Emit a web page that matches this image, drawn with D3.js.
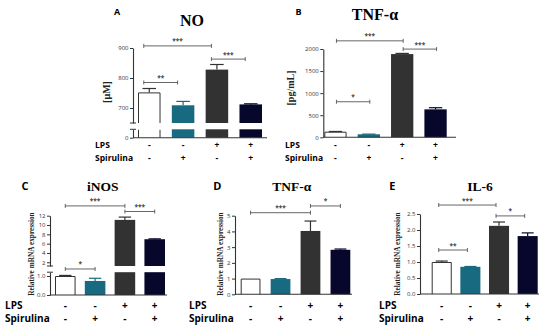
<!DOCTYPE html>
<html>
<head>
<meta charset="utf-8">
<script src="https://cdn.jsdelivr.net/npm/d3@7"></script>
<style>
  body { margin: 0; background: #fff; }
  svg { display: block; }
</style>
</head>
<body>
<svg id="fig" width="550" height="333"></svg>
<script>
// groups (same for every panel)
const groups = ['ctrl', 'spir', 'lps', 'lpsSpir'];
const lpsSigns = ['-', '-', '+', '+'];
const spirSigns = ['-', '+', '-', '+'];
const barColors = ['#ffffff', '#176a7f', '#323232', '#07072b'];

// A - NO, µM
const noMean = [752, 709, 828, 712];
const noErr = [13, 13, 17, 2];
const noTicksUpper = [700, 800, 900];
const noTicksLower = [0];
// [from, to, label, y value]
const noSig = [[0, 2, '***', 907], [0, 1, '**', 785], [2, 3, '***', 863]];

// B - TNF-a protein, pg/mL
const tnfProtMean = [127, 68, 1885, 633];
const tnfProtErr = [5, 4, 15, 37];
const tnfProtTicks = [0, 500, 1000, 1500, 2000];
const tnfProtSig = [[0, 2, '***', 2185], [2, 3, '***', 1998], [0, 1, '*', 805]];

// C - iNOS mRNA
const inosMean = [1.0, 0.74, 11.1, 6.95];
const inosErr = [0.03, 0.14, 0.6, 0.08];
const inosTicksUpper = [2, 4, 6, 8, 10, 12];
const inosTicksLower = [0, 1];
const inosSig = [[0, 2, '***', 14.1], [2, 3, '***', 12.9], [0, 1, '*', 1.37, 'L']];

// D - TNF-a mRNA
const tnfMrnaMean = [1.0, 0.97, 4.03, 2.83];
const tnfMrnaErr = [0, 0.03, 0.63, 0.05];
const tnfMrnaTicks = [0, 1, 2, 3, 4, 5];
const tnfMrnaSig = [[0, 2, '***', 5.19], [2, 3, '*', 5.62]];

// E - IL-6 mRNA
const il6Mean = [1.0, 0.85, 2.13, 1.81];
const il6Err = [0.03, 0.01, 0.12, 0.1];
const il6Ticks = [0, 0.5, 1, 1.5, 2, 2.5];
const il6Sig = [[0, 2, '***', 2.78], [2, 3, '*', 2.44], [0, 1, '**', 1.375]];

const svg = d3.select('#fig');
const serif = "'Liberation Serif', 'DejaVu Serif', serif";
const sans = "'Open Sans', 'Liberation Sans', sans-serif";

function drawPanel(cfg) {
  const g = svg.append('g');

  const x = d3.scaleBand().domain(groups).range(cfg.bars).paddingInner(cfg.pad);
  const bw = x.bandwidth();
  const yU = d3.scaleLinear().domain(cfg.upper.domain).range(cfg.upper.range);
  const yL = cfg.lower
    ? d3.scaleLinear().domain(cfg.lower.domain).range(cfg.lower.range)
    : null;
  const base = yL ? yL(0) : yU(0);

  // which scale a value lands on
  function yOf(v) {
    if (!yL) return yU(v);
    return v > cfg.upper.domain[0] ? yU(v) : yL(v);
  }

  // bars, split into segments on broken axes
  groups.forEach(function (k, i) {
    const v = cfg.mean[i];
    let segs = [];
    if (!yL) {
      segs.push([yU(v), base, true]);
    } else {
      if (v > cfg.upper.domain[0]) {
        segs.push([yU(v), yU(cfg.upper.domain[0]), true]);
        segs.push([yL(cfg.lower.domain[1]), base, false]);
      } else {
        segs.push([yL(v), base, true]);
      }
    }
    segs.forEach(function (s) {
      g.append('rect')
        .attr('x', x(k))
        .attr('y', s[0])
        .attr('width', bw)
        .attr('height', s[1] - s[0])
        .attr('fill', barColors[i]);
      if (i === 0) {
        let p = 'M' + (x(k) + 0.5) + ',' + s[1] + 'V' + (s[0] + 0.5);
        p += s[2] ? 'H' + (x(k) + bw - 0.5) : 'M' + (x(k) + bw - 0.5) + ',' + (s[0] + 0.5);
        p += 'V' + s[1];
        g.append('path').attr('d', p).attr('fill', 'none')
          .attr('stroke', '#333').attr('stroke-width', 1);
      }
    });

    // error bar (upwards only)
    const e = cfg.err[i];
    if (e > 0) {
      const y0 = yOf(v);
      const y1 = (yL && v <= cfg.upper.domain[0]) ? yL(v + e) : yOf(v + e);
      const cx = x(k) + bw / 2;
      const col = i === 0 ? '#333' : barColors[i];
      g.append('line').attr('x1', cx).attr('x2', cx).attr('y1', y0).attr('y2', y1)
        .attr('stroke', col).attr('stroke-width', 1.2);
      g.append('line').attr('x1', cx - bw * 0.3).attr('x2', cx + bw * 0.3)
        .attr('y1', y1).attr('y2', y1)
        .attr('stroke', col).attr('stroke-width', 1.2);
    }
  });

  // y axes
  function styleAxis(sel) {
    sel.select('.domain').attr('stroke', '#333').attr('stroke-width', 1.1);
    sel.selectAll('.tick line').attr('stroke', '#333');
    sel.selectAll('.tick text')
      .attr('font-family', sans)
      .attr('font-size', 6)
      .attr('fill', '#333');
  }
  const axU = g.append('g')
    .attr('transform', 'translate(' + cfg.axisX + ',0)')
    .call(d3.axisLeft(yU).tickValues(cfg.ticksUpper).tickSize(3).tickSizeOuter(0)
      .tickPadding(1.5).tickFormat(cfg.fmt || d3.format('')));
  styleAxis(axU);
  if (yL) {
    const axL = g.append('g')
      .attr('transform', 'translate(' + cfg.axisX + ',0)')
      .call(d3.axisLeft(yL).tickValues(cfg.ticksLower).tickSize(3).tickSizeOuter(0)
        .tickPadding(1.5));
    styleAxis(axL);
    // break caps
    [yU(cfg.upper.domain[0]), yL(cfg.lower.domain[1])].forEach(function (yy) {
      g.append('line')
        .attr('x1', cfg.axisX - 3).attr('x2', cfg.axisX + 3)
        .attr('y1', yy).attr('y2', yy)
        .attr('stroke', '#333').attr('stroke-width', 1);
    });
  }

  // x axis baseline
  g.append('line')
    .attr('x1', cfg.axisX).attr('x2', cfg.xEnd)
    .attr('y1', base).attr('y2', base)
    .attr('stroke', '#333').attr('stroke-width', 1.1);

  // significance brackets
  cfg.sig.forEach(function (s) {
    const yy = s[4] === 'L' ? yL(s[3]) : yU(s[3]);
    const xa = x(groups[s[0]]) + bw / 2 + cfg.sigShift;
    const xb = x(groups[s[1]]) + bw / 2 + cfg.sigShift;
    g.append('path')
      .attr('d', 'M' + xa + ',' + (yy - 2) + 'V' + (yy + 2) + 'M' + xa + ',' + yy +
        'H' + xb + 'M' + xb + ',' + (yy - 2) + 'V' + (yy + 2))
      .attr('fill', 'none').attr('stroke', '#555').attr('stroke-width', 0.9);
    g.append('text')
      .attr('x', (xa + xb) / 2).attr('y', yy - 2.5)
      .attr('text-anchor', 'middle')
      .attr('font-family', sans).attr('font-size', 6.5).attr('font-weight', 'bold')
      .attr('fill', '#444')
      .text(s[2]);
  });

  // title, panel letter, y label
  g.append('text')
    .attr('x', cfg.title[1]).attr('y', cfg.title[2])
    .attr('text-anchor', 'middle')
    .attr('font-family', serif).attr('font-weight', 'bold')
    .attr('font-size', cfg.title[3])
    .text(cfg.title[0]);
  g.append('text')
    .attr('x', cfg.letter[1]).attr('y', cfg.letter[2])
    .attr('text-anchor', 'middle')
    .attr('font-family', sans).attr('font-weight', 'bold')
    .attr('font-size', cfg.letter[3])
    .text(cfg.letter[0]);
  g.append('text')
    .attr('transform', 'translate(' + cfg.ylab[1] + ',' + cfg.ylab[2] + ') rotate(-90)')
    .attr('text-anchor', 'middle')
    .attr('dominant-baseline', 'middle')
    .attr('font-family', serif).attr('font-weight', 'bold')
    .attr('font-size', cfg.ylab[3])
    .attr('fill', '#222')
    .text(cfg.ylab[0]);

  // LPS / Spirulina rows
  [['LPS', lpsSigns, cfg.rows[1]], ['Spirulina', spirSigns, cfg.rows[2]]].forEach(function (r) {
    g.append('text')
      .attr('x', cfg.rows[0]).attr('y', r[2])
      .attr('dominant-baseline', 'middle')
      .attr('font-family', sans).attr('font-weight', 'bold')
      .attr('font-size', cfg.rows[3])
      .text(r[0]);
    g.selectAll(null)
      .data(r[1])
      .join('text')
      .attr('x', (d, i) => x(groups[i]) + bw / 2)
      .attr('y', r[2])
      .attr('text-anchor', 'middle')
      .attr('dominant-baseline', 'middle')
      .attr('font-family', sans).attr('font-weight', 'bold')
      .attr('font-size', cfg.rows[3])
      .text((d) => d);
  });
}

drawPanel({
  mean: noMean, err: noErr,
  bars: [138, 262], pad: 0.334, axisX: 133, xEnd: 267,
  upper: { domain: [650, 900], range: [123, 48] },
  lower: { domain: [0, 50], range: [137.7, 129.3] },
  ticksUpper: noTicksUpper, ticksLower: noTicksLower,
  sig: noSig, sigShift: -5.5,
  title: ['NO', 192, 26, 16], letter: ['A', 117, 15, 9],
  ylab: ['[µM]', 108, 92, 10],
  rows: [95, 146, 158.5, 8.5]
});

drawPanel({
  mean: tnfProtMean, err: tnfProtErr,
  bars: [324.3, 446.7], pad: 0.332, axisX: 323.3, xEnd: 456,
  upper: { domain: [0, 2000], range: [137.3, 49] },
  ticksUpper: tnfProtTicks,
  sig: tnfProtSig, sigShift: 1,
  title: ['TNF-α', 375, 19.5, 16], letter: ['B', 298.5, 15, 9],
  ylab: ['[pg/mL]', 292, 88, 10],
  rows: [285, 146, 158.5, 8.5]
});

drawPanel({
  mean: inosMean, err: inosErr,
  bars: [55, 165], pad: 0.31, axisX: 50, xEnd: 167,
  upper: { domain: [1.2, 12], range: [266, 215.7] },
  lower: { domain: [0, 1.2], range: [295, 272.2] },
  ticksUpper: inosTicksUpper, ticksLower: inosTicksLower,
  sig: inosSig, sigShift: 0,
  title: ['iNOS', 102.7, 190.5, 13.5], letter: ['C', 25, 190, 11],
  ylab: ['Relative mRNA expression', 32, 254, 7.3],
  rows: [5, 306.7, 319.5, 10]
});

drawPanel({
  mean: tnfMrnaMean, err: tnfMrnaErr,
  bars: [240.7, 350.3], pad: 0.34, axisX: 235, xEnd: 352,
  upper: { domain: [0, 5], range: [294.3, 215.7] },
  ticksUpper: tnfMrnaTicks,
  sig: tnfMrnaSig, sigShift: 0,
  title: ['TNF-α', 291.7, 190.5, 13.5], letter: ['D', 217.3, 190, 11],
  ylab: ['Relative mRNA expression', 221.7, 254, 7.3],
  rows: [189, 306.7, 319.5, 10]
});

drawPanel({
  mean: il6Mean, err: il6Err,
  bars: [431.7, 537.7], pad: 0.30, axisX: 420, xEnd: 539,
  upper: { domain: [0, 2.5], range: [294, 214] },
  ticksUpper: il6Ticks, fmt: d3.format('.1f'),
  sig: il6Sig, sigShift: -3,
  title: ['IL-6', 480, 191, 13.5], letter: ['E', 392.3, 190, 11],
  ylab: ['Relative mRNA expression', 398.3, 254, 7.3],
  rows: [379, 306.7, 319.5, 10]
});
</script>
</body>
</html>
